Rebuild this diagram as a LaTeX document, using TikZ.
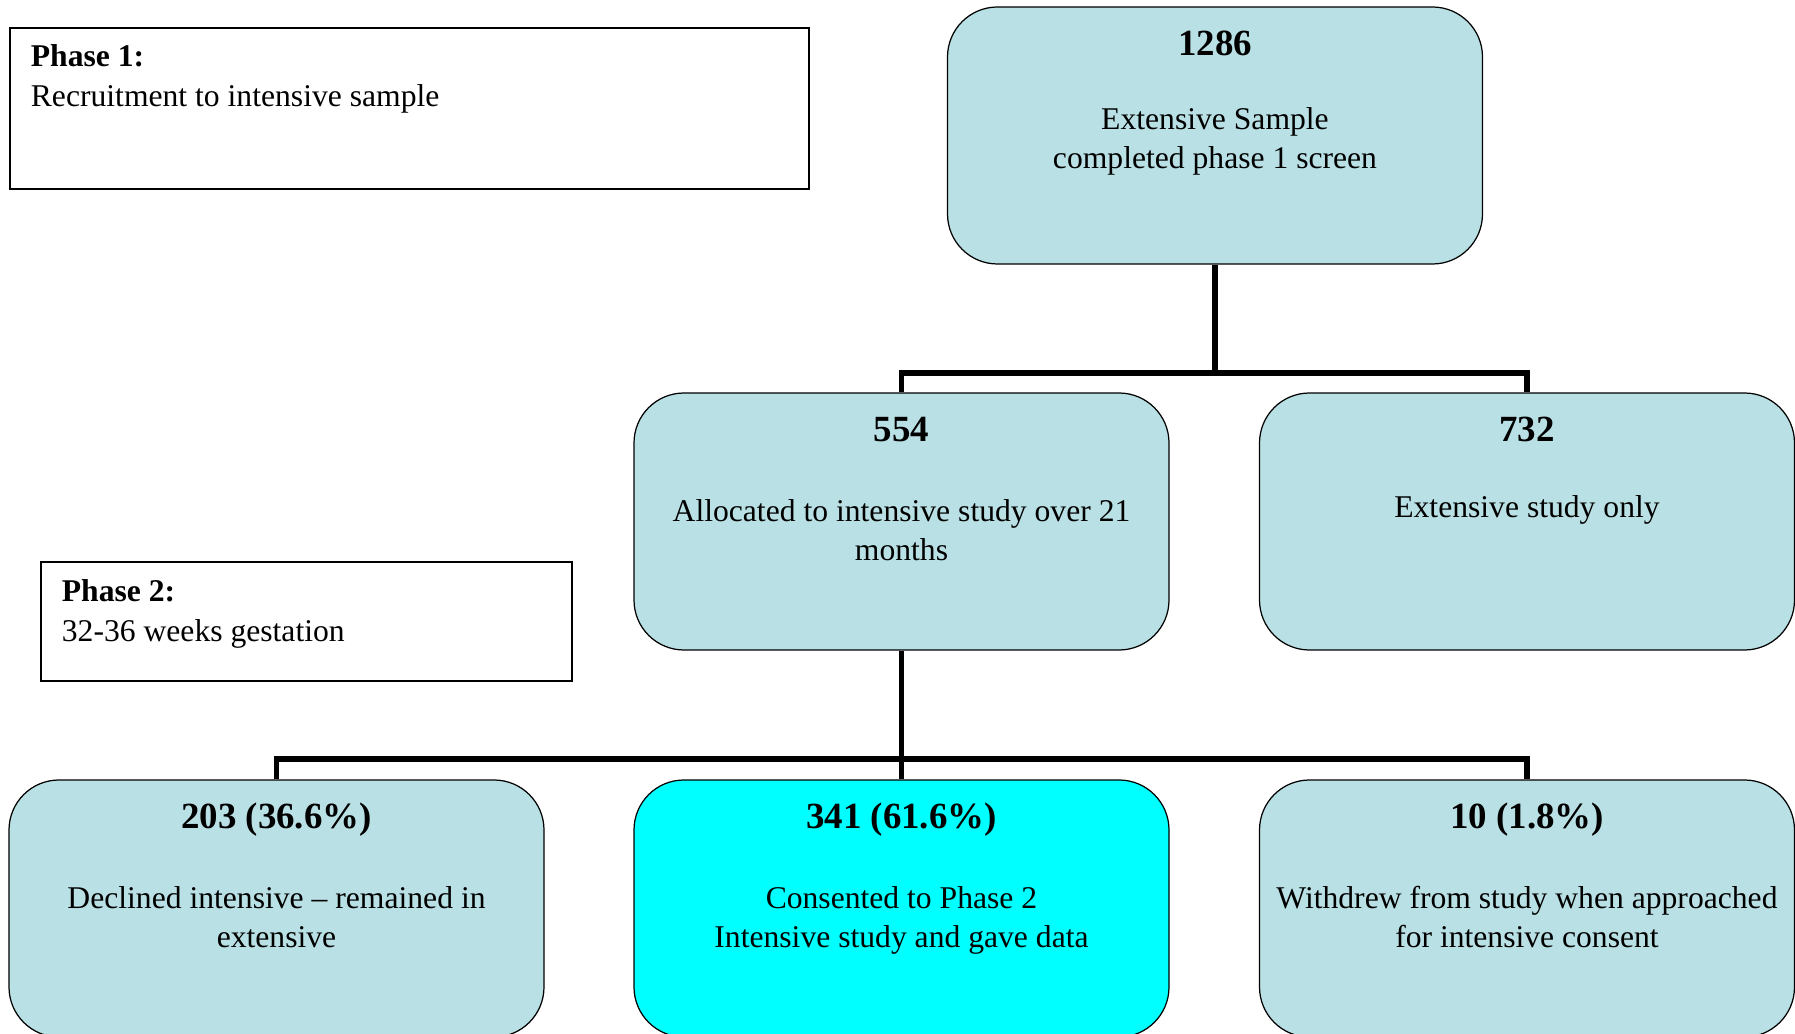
\documentclass[tikz,border=0pt]{standalone}
\usepackage{fontspec}
\setmainfont{Liberation Serif}
\definecolor{boxblue}{RGB}{185,224,228}
\definecolor{boxcyan}{RGB}{0,255,255}
% text inside a rounded box: bold count on top, description below
\newcommand{\countbox}[3][23pt]{\parbox[c][5.14cm][t]{10.5cm}{\centering\rule{0pt}{0.97cm}{\fontsize{21}{22}\selectfont\textbf{#2}}\par\vspace{#1}#3}}
\newcommand{\phasetext}[5]{\parbox[c][#2][t]{#1}{\rule{0pt}{#3}\textbf{#4}\\#5}}

\begin{document}
\begin{tikzpicture}[font=\fontsize{18}{22.5}\selectfont,
  countnode/.style={draw,line width=0.7pt,rounded corners=1cm,fill=boxblue,inner sep=0pt,minimum width=10.7cm,minimum height=5.14cm},
  phasebox/.style={draw,line width=1pt,inner xsep=0.42cm,inner ysep=0pt,anchor=north west},
  link/.style={line width=3.4pt}]
\useasboundingbox (0,0) rectangle (35.9,-20.68);
% phase labels
\node[phasebox] (phase1) at (0.18,-0.54) {\phasetext{15.14cm}{3.22cm}{0.78cm}{Phase 1:}{Recruitment to intensive sample}};
\node[phasebox] (phase2) at (0.8,-11.22) {\phasetext{9.78cm}{2.38cm}{0.8cm}{Phase 2:}{32-36 weeks gestation}};
% counts
\node[countnode] (n1286) at (24.3,-2.71) {\countbox[19.5pt]{1286}{Extensive Sample\\completed phase 1 screen}};
\node[countnode] (n554) at (18.03,-10.43) {\countbox{554}{Allocated to intensive study over 21\\months}};
\node[countnode] (n732) at (30.54,-10.43) {\countbox[21pt]{732}{Extensive study only}};
\node[countnode] (n203) at (5.53,-18.17) {\countbox{203 (36.6\%)}{Declined intensive -- remained in\\extensive}};
\node[countnode,fill=boxcyan] (n341) at (18.03,-18.17) {\countbox{341 (61.6\%)}{Consented to Phase 2\\Intensive study and gave data}};
\node[countnode] (n10) at (30.54,-18.17) {\countbox{10 (1.8\%)}{Withdrew from study when approached\\for intensive consent}};
% branches
\coordinate (fork1) at (24.3,-7.46);
\coordinate (fork2) at (18.03,-15.18);
\draw[link] (n1286.south) -- (fork1);
\draw[link] (n554.north) |- (fork1) -| (n732.north);
\draw[link] (n554.south) -- (fork2);
\draw[link] (n203.north) |- (fork2) -| (n10.north);
\draw[link] (fork2) -- (n341.north);
\end{tikzpicture}
\end{document}
